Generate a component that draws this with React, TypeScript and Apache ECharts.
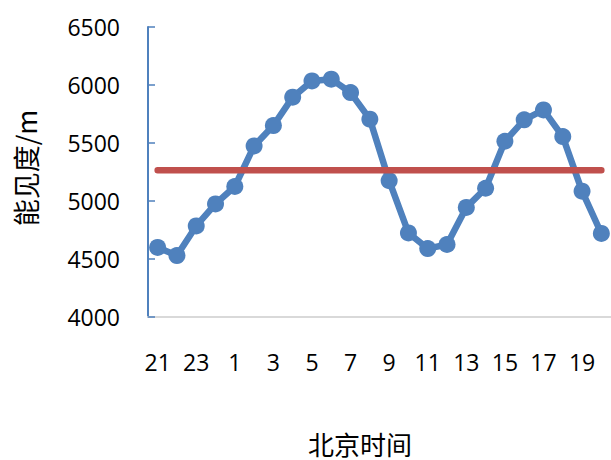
import React, { useEffect, useRef } from "react";
import * as echarts from "echarts";

const hours = ["21","22","23","0","1","2","3","4","5","6","7","8","9","10","11","12","13","14","15","16","17","18","19","20"];
const visibility = [4600,4530,4785,4975,5125,5475,5650,5895,6035,6050,5935,5705,5175,4725,4590,4625,4945,5110,5515,5700,5785,5555,5085,4720];
const meanValue = 5265;
const meanLine = hours.map(() => meanValue);
const yTicks = { min: 4000, max: 6500, interval: 500 };
const xName = "北京时间";
const yName = "能见度/m";

export default function App() {
  const ref = useRef<HTMLDivElement>(null);
  useEffect(() => {
    document.body.style.margin = "0";
    const chart = echarts.init(ref.current!, null, { renderer: "svg" });
    const numFont = "'Open Sans', 'Liberation Sans', sans-serif";
    const cjkFont = "'Noto Sans CJK SC', sans-serif";
    chart.setOption({
      animation: false,
      backgroundColor: "#ffffff",
      grid: { left: 148, top: 27, width: 468, height: 290, containLabel: false },
      xAxis: {
        type: "category",
        data: hours,
        boundaryGap: true,
        axisLine: { lineStyle: { color: "#d9d9d9", width: 2 } },
        axisTick: { inside: true, length: 8, lineStyle: { color: "#d9d9d9", width: 1.5 } },
        axisLabel: { interval: 1, margin: 33, fontSize: 23, color: "#000", fontFamily: numFont },
        splitLine: { show: false },
      },
      yAxis: {
        type: "value",
        min: yTicks.min,
        max: yTicks.max,
        interval: yTicks.interval,
        axisLine: { show: true, lineStyle: { color: "#4f81bd", width: 2 } },
        axisTick: { show: true, inside: true, length: 7, lineStyle: { color: "#4f81bd", width: 1.5 } },
        axisLabel: { margin: 28, fontSize: 23, color: "#000", fontFamily: numFont, formatter: (v: number) => String(v) },
        splitLine: { show: false },
      },
      series: [
        {
          type: "line",
          data: visibility,
          symbol: "circle",
          symbolSize: 17,
          showAllSymbol: true,
          itemStyle: { color: "#4f81bd" },
          lineStyle: { color: "#4f81bd", width: 6.5 },
          z: 2,
        },
        {
          type: "line",
          data: meanLine,
          symbol: "none",
          lineStyle: { color: "#c0504d", width: 6.5, cap: "round" },
          z: 3,
        },
      ],
      graphic: [
        {
          type: "text",
          x: 360,
          y: 443,
          style: { text: xName, align: "center", verticalAlign: "middle", font: `26px ${cjkFont}`, fill: "#000" },
        },
        {
          type: "text",
          x: 25,
          y: 168,
          rotation: Math.PI / 2,
          style: { text: yName, align: "center", verticalAlign: "middle", font: `27px ${cjkFont}`, fill: "#000" },
        },
      ],
    });
    return () => chart.dispose();
  }, []);
  return <div ref={ref} style={{ width: 611, height: 460, overflow: "hidden" }} />;
}
